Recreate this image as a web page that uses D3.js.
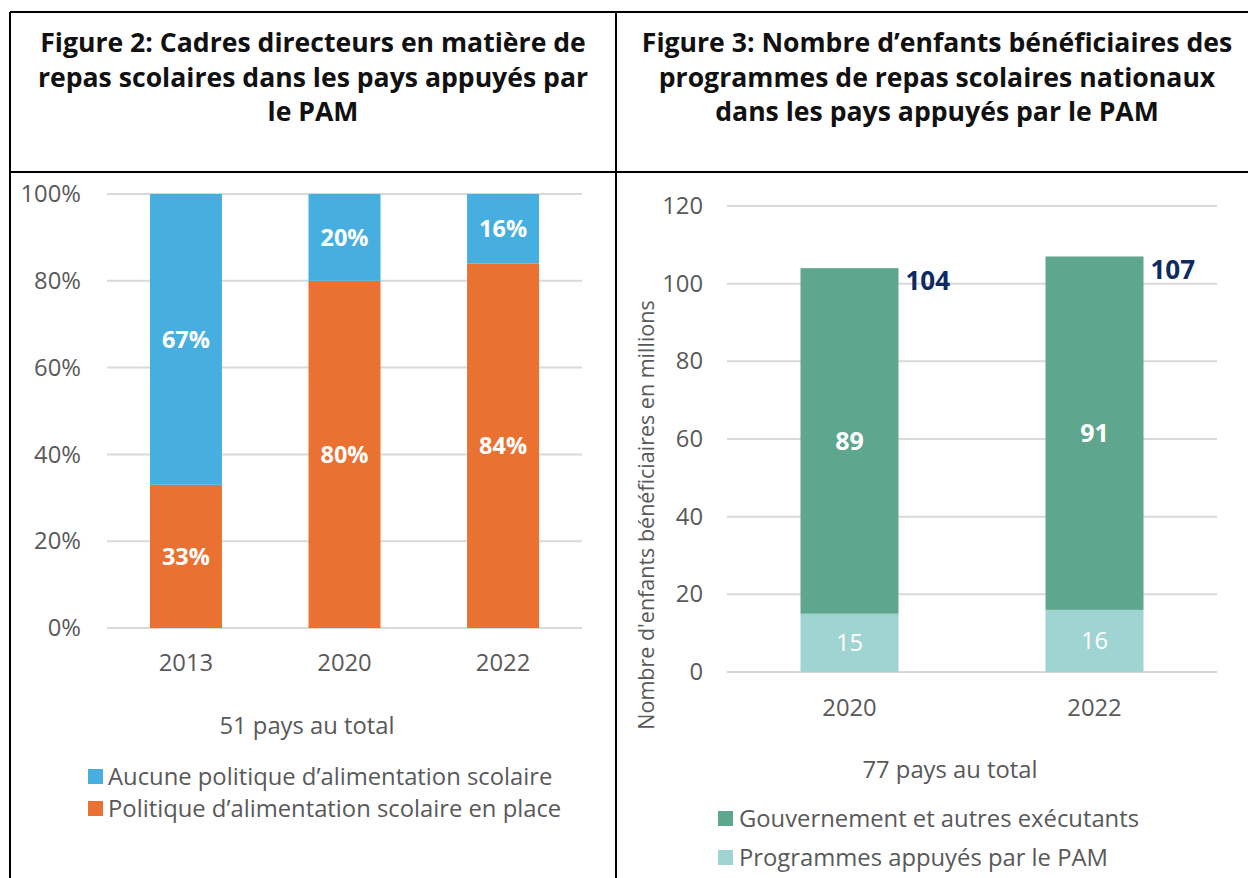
<!DOCTYPE html>
<html>
<head>
<meta charset="utf-8">
<script src="https://cdn.jsdelivr.net/npm/d3@7"></script>
<style>
  body { margin: 0; background: #fff; }
  text { font-family: "Open Sans", sans-serif; }
</style>
</head>
<body>
<div id="chart"></div>
<script>
// Figure 2 data
var years2 = ["2013", "2020", "2022"];
var noPolicy = [67, 20, 16];
var policy = [33, 80, 84];
var pctTicks = [0, 20, 40, 60, 80, 100];

// Figure 3 data
var years3 = ["2020", "2022"];
var wfpSupported = [15, 16];
var government = [89, 91];
var totals = [104, 107];
var countTicks = [0, 20, 40, 60, 80, 100, 120];

var svg = d3.select("#chart").append("svg")
  .attr("width", 1248)
  .attr("height", 878);

// table borders
var borders = [
  [10, 12, 1248, 12],
  [10, 172, 1248, 172],
  [10, 12, 10, 878],
  [616, 12, 616, 878]
];
svg.selectAll("line.border").data(borders).enter().append("line")
  .attr("x1", d => d[0]).attr("y1", d => d[1])
  .attr("x2", d => d[2]).attr("y2", d => d[3])
  .attr("stroke", "#000").attr("stroke-width", 2);

function title(lines, cx) {
  var t = svg.append("text")
    .attr("text-anchor", "middle")
    .attr("font-size", 26.6)
    .attr("font-weight", "bold")
    .attr("fill", "#111");
  lines.forEach(function(l, i) {
    t.append("tspan").attr("x", cx).attr("y", 52 + i * 34.5).text(l);
  });
}
title(["Figure 2: Cadres directeurs en matière de", "repas scolaires dans les pays appuyés par", "le PAM"], 313);
title(["Figure 3: Nombre d’enfants bénéficiaires des", "programmes de repas scolaires nationaux", "dans les pays appuyés par le PAM"], 937);

var grey = "#595959";
var fs = 23.8;

// ---------- Figure 2 ----------
var x2 = d3.scaleBand().domain(years2).range([107, 582]).paddingInner(0.546).paddingOuter(0.271);
var y2 = d3.scaleLinear().domain([0, 100]).range([628, 194]);

var g2 = svg.append("g");
g2.append("g").selectAll("line").data(pctTicks).enter().append("line")
  .attr("x1", 107).attr("x2", 582)
  .attr("y1", d => y2(d)).attr("y2", d => y2(d))
  .attr("stroke", "#d9d9d9").attr("stroke-width", 2);

var yAxis2 = g2.append("g").attr("transform", "translate(107,0)")
  .call(d3.axisLeft(y2).tickValues(pctTicks).tickFormat(d => d + "%").tickSize(0).tickPadding(26));
yAxis2.select(".domain").remove();
yAxis2.selectAll("text").attr("font-size", fs).attr("fill", grey).attr("font-family", "Open Sans");

var xAxis2 = g2.append("g").attr("transform", "translate(0,628)")
  .call(d3.axisBottom(x2).tickSize(0).tickPadding(26));
xAxis2.select(".domain").remove();
xAxis2.selectAll("text").attr("font-size", fs).attr("fill", grey).attr("font-family", "Open Sans");

var rows2 = years2.map((y, i) => ({ year: y, policy: policy[i], none: noPolicy[i] }));
var blue = "#47afe0", orange = "#e97132";

g2.selectAll("rect.pol").data(rows2).enter().append("rect")
  .attr("x", d => x2(d.year)).attr("width", x2.bandwidth())
  .attr("y", d => y2(d.policy)).attr("height", d => y2(0) - y2(d.policy))
  .attr("fill", orange);
g2.selectAll("rect.none").data(rows2).enter().append("rect")
  .attr("x", d => x2(d.year)).attr("width", x2.bandwidth())
  .attr("y", d => y2(d.policy + d.none)).attr("height", d => y2(d.policy) - y2(d.policy + d.none))
  .attr("fill", blue);

g2.selectAll("text.lp").data(rows2).enter().append("text")
  .attr("x", d => x2(d.year) + x2.bandwidth() / 2)
  .attr("y", d => y2(d.policy / 2)).attr("dy", "0.35em")
  .attr("text-anchor", "middle").attr("font-size", 23.5).attr("font-weight", "bold").attr("fill", "#fff")
  .text(d => d.policy + "%");
g2.selectAll("text.ln").data(rows2).enter().append("text")
  .attr("x", d => x2(d.year) + x2.bandwidth() / 2)
  .attr("y", d => y2(d.policy + d.none / 2)).attr("dy", "0.35em")
  .attr("text-anchor", "middle").attr("font-size", 23.5).attr("font-weight", "bold").attr("fill", "#fff")
  .text(d => d.none + "%");

g2.append("text").attr("x", 307).attr("y", 734).attr("text-anchor", "middle")
  .attr("font-size", fs).attr("fill", grey).text("51 pays au total");

var leg2 = [["Aucune politique d’alimentation scolaire", blue], ["Politique d’alimentation scolaire en place", orange]];
leg2.forEach(function(d, i) {
  g2.append("rect").attr("x", 88).attr("y", 769 + i * 32).attr("width", 15).attr("height", 15).attr("fill", d[1]);
  g2.append("text").attr("x", 108).attr("y", 785 + i * 32)
    .attr("font-size", fs).attr("fill", grey).text(d[0]);
});

// ---------- Figure 3 ----------
var x3 = d3.scaleBand().domain(years3).range([727, 1217]).paddingInner(0.6).paddingOuter(0.3);
var y3 = d3.scaleLinear().domain([0, 120]).range([672, 206]);

var g3 = svg.append("g");
g3.append("g").selectAll("line").data(countTicks).enter().append("line")
  .attr("x1", 727).attr("x2", 1217)
  .attr("y1", d => y3(d)).attr("y2", d => y3(d))
  .attr("stroke", "#d9d9d9").attr("stroke-width", 2);

var yAxis3 = g3.append("g").attr("transform", "translate(727,0)")
  .call(d3.axisLeft(y3).tickValues(countTicks).tickSize(0).tickPadding(24));
yAxis3.select(".domain").remove();
yAxis3.selectAll("text").attr("font-size", fs).attr("fill", grey).attr("font-family", "Open Sans");

var xAxis3 = g3.append("g").attr("transform", "translate(0,672)")
  .call(d3.axisBottom(x3).tickSize(0).tickPadding(27));
xAxis3.select(".domain").remove();
xAxis3.selectAll("text").attr("font-size", fs).attr("fill", grey).attr("font-family", "Open Sans");

g3.append("text").attr("transform", "translate(654,515) rotate(-90)")
  .attr("text-anchor", "middle").attr("font-size", 21.5).attr("fill", grey)
  .text("Nombre d'enfants bénéficiaires en millions");

var rows3 = years3.map((y, i) => ({ year: y, wfp: wfpSupported[i], gov: government[i], total: totals[i] }));
var green = "#5ea68d", teal = "#9fd4d2";

g3.selectAll("rect.wfp").data(rows3).enter().append("rect")
  .attr("x", d => x3(d.year)).attr("width", x3.bandwidth())
  .attr("y", d => y3(d.wfp)).attr("height", d => y3(0) - y3(d.wfp))
  .attr("fill", teal);
g3.selectAll("rect.gov").data(rows3).enter().append("rect")
  .attr("x", d => x3(d.year)).attr("width", x3.bandwidth())
  .attr("y", d => y3(d.wfp + d.gov)).attr("height", d => y3(d.wfp) - y3(d.wfp + d.gov))
  .attr("fill", green);

g3.selectAll("text.lw").data(rows3).enter().append("text")
  .attr("x", d => x3(d.year) + x3.bandwidth() / 2)
  .attr("y", d => y3(d.wfp / 2)).attr("dy", "0.35em")
  .attr("text-anchor", "middle").attr("font-size", fs).attr("fill", "#fff")
  .text(d => d.wfp);
g3.selectAll("text.lg").data(rows3).enter().append("text")
  .attr("x", d => x3(d.year) + x3.bandwidth() / 2)
  .attr("y", d => y3(d.wfp + d.gov / 2)).attr("dy", "0.35em")
  .attr("text-anchor", "middle").attr("font-size", 25).attr("font-weight", "bold").attr("fill", "#fff")
  .text(d => d.gov);
g3.selectAll("text.lt").data(rows3).enter().append("text")
  .attr("x", d => x3(d.year) + x3.bandwidth() + 7)
  .attr("y", d => y3(d.total)).attr("dy", "0.85em")
  .attr("font-size", 26).attr("font-weight", "bold").attr("fill", "#0d2a63")
  .text(d => d.total);

g3.append("text").attr("x", 950).attr("y", 778).attr("text-anchor", "middle")
  .attr("font-size", fs).attr("fill", grey).text("77 pays au total");

var leg3 = [["Gouvernement et autres exécutants", green], ["Programmes appuyés par le PAM", teal]];
leg3.forEach(function(d, i) {
  g3.append("rect").attr("x", 718).attr("y", 811 + i * 39).attr("width", 15).attr("height", 15).attr("fill", d[1]);
  g3.append("text").attr("x", 739).attr("y", 827 + i * 39)
    .attr("font-size", fs).attr("fill", grey).text(d[0]);
});
</script>
</body>
</html>
